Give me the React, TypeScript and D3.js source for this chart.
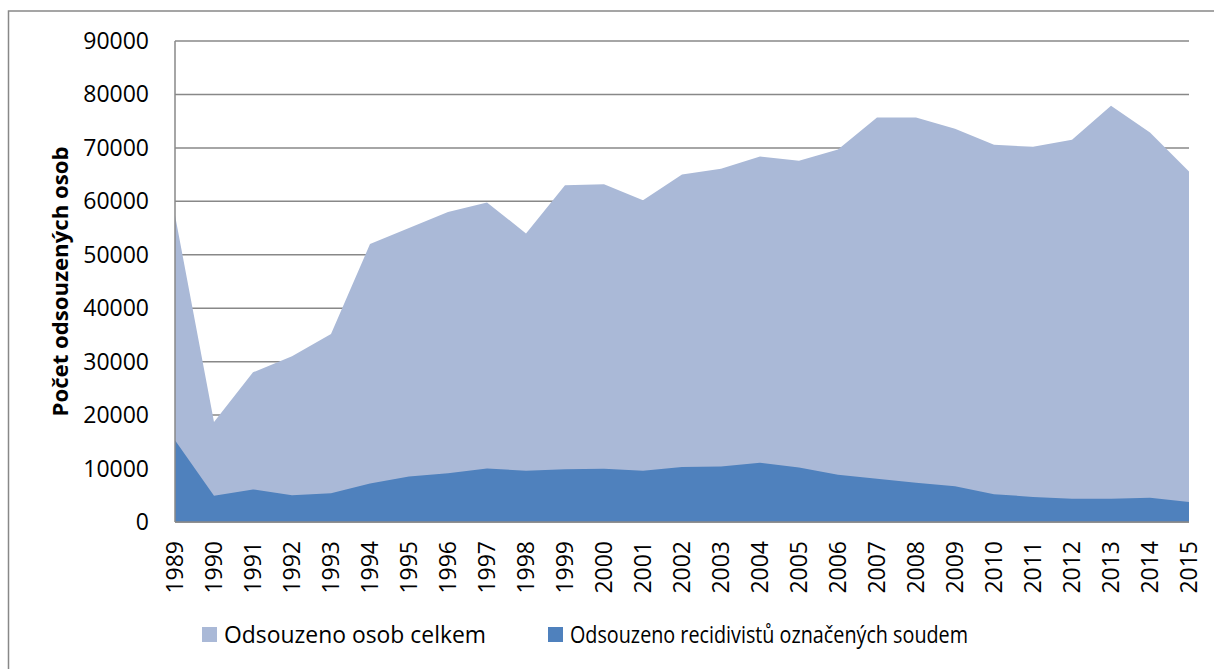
import React from 'react';
import * as d3 from 'd3';

// years on the x axis
const years = [
  '1989', '1990', '1991', '1992', '1993', '1994', '1995', '1996', '1997',
  '1998', '1999', '2000', '2001', '2002', '2003', '2004', '2005', '2006',
  '2007', '2008', '2009', '2010', '2011', '2012', '2013', '2014', '2015',
];

// Odsouzeno osob celkem
const totalConvicted = [
  57400, 18700, 28000, 31000, 35200, 52000, 55000, 58000, 59800,
  54000, 63000, 63200, 60200, 65000, 66100, 68400, 67600, 69700,
  75700, 75700, 73600, 70600, 70200, 71500, 77900, 72900, 65600,
];

// Odsouzeno recidivistů označených soudem
const recidivists = [
  15300, 4900, 6100, 5000, 5400, 7200, 8500, 9100, 10000,
  9600, 9850, 9950, 9600, 10300, 10400, 11100, 10200, 8850,
  8100, 7350, 6700, 5200, 4700, 4350, 4350, 4550, 3750,
];

const yTicks = [0, 10000, 20000, 30000, 40000, 50000, 60000, 70000, 80000, 90000];

const seriesNames = ['Odsouzeno osob celkem', 'Odsouzeno recidivistů označených soudem'];
const seriesColors = ['#AAB9D7', '#4F81BD'];

const W = 1214;
const H = 669;
const plot = { left: 175, right: 1189, top: 41, bottom: 522 };
const FONT = '"Open Sans", "Liberation Sans", sans-serif';
const GRID = '#888888';

export default function App() {
  const x = d3.scalePoint<string>().domain(years).range([plot.left, plot.right]);
  const y = d3.scaleLinear().domain([0, 90000]).range([plot.bottom, plot.top]);

  const area = d3.area<number>()
    .x((_, i) => x(years[i]) as number)
    .y0(y(0))
    .y1((d) => y(d));

  const series = [totalConvicted, recidivists];

  return (
    <div style={{ position: 'absolute', left: 0, top: 0 }}>
      <svg width={W} height={H} style={{ display: 'block', background: '#fff' }}>
        {/* outer chart frame, only top/left edges fall inside the picture */}
        <rect x={8.5} y={11} width={1400} height={1000} fill="none" stroke={GRID} strokeWidth={1.5} />

        {/* gridlines */}
        {yTicks.map((t) => (
          <line key={t} x1={plot.left} x2={plot.right} y1={y(t)} y2={y(t)} stroke={GRID} strokeWidth={1.5} />
        ))}

        {/* areas, drawn overlapping (not stacked) */}
        {series.map((s, i) => (
          <path key={i} d={area(s) || ''} fill={seriesColors[i]} />
        ))}

        {/* axes lines */}
        <line x1={plot.left} x2={plot.left} y1={plot.top} y2={plot.bottom} stroke={GRID} strokeWidth={1.5} />
        <line x1={plot.left} x2={plot.right} y1={plot.bottom} y2={plot.bottom} stroke={GRID} strokeWidth={1.5} />

        {/* y tick labels */}
        {yTicks.map((t) => (
          <text key={t} x={149} y={y(t)} dy="0.35em" textAnchor="end" fontFamily={FONT} fontSize={23} fill="#000">
            {t}
          </text>
        ))}

        {/* y axis title */}
        <text
          transform={`translate(68, ${(plot.top + plot.bottom) / 2}) rotate(-90)`}
          textAnchor="middle"
          fontFamily={FONT}
          fontWeight="bold"
          fontSize={21}
          textLength={270}
          lengthAdjust="spacingAndGlyphs"
        >
          Počet odsouzených osob
        </text>

        {/* x tick labels, rotated */}
        {years.map((yr) => (
          <text
            key={yr}
            transform={`translate(${x(yr)}, 541) rotate(-90)`}
            textAnchor="end"
            dy="0.35em"
            fontFamily={FONT}
            fontSize={23}
          >
            {yr}
          </text>
        ))}

        {/* legend */}
        {[{ sx: 202, tx: 224, w: 262 }, { sx: 548, tx: 570, w: 398 }].map((l, i) => (
          <g key={i}>
            <rect x={l.sx} y={627} width={15} height={15} fill={seriesColors[i]} />
            <text x={l.tx} y={643} fontFamily={FONT} fontSize={23} textLength={l.w} lengthAdjust="spacingAndGlyphs">
              {seriesNames[i]}
            </text>
          </g>
        ))}
      </svg>
    </div>
  );
}
